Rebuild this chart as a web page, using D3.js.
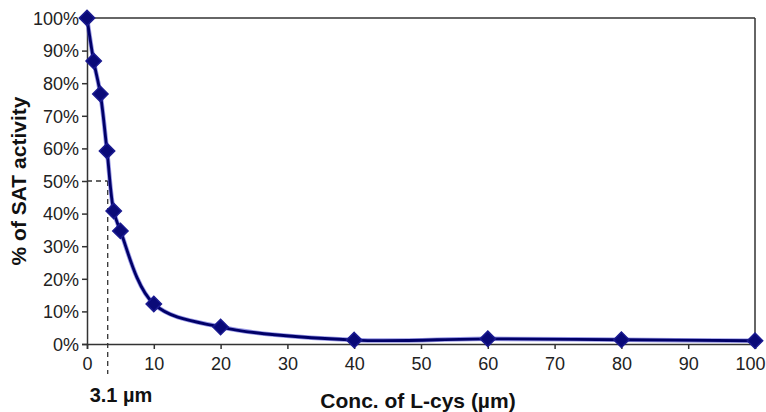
<!DOCTYPE html>
<html><head><meta charset="utf-8">
<script src="https://d3js.org/d3.v7.min.js"></script>
<style>body{margin:0;background:#fff}svg{display:block}text{font-family:"Liberation Sans",Arial,sans-serif}</style>
</head><body>
<svg id="c" width="766" height="412"></svg>
<script>
const conc = [0, 1, 2, 3, 4, 5, 10, 20, 40, 60, 80, 100];
const activity = [100, 86.8, 76.7, 59.2, 40.8, 34.7, 12.3, 5.2, 1.2, 1.6, 1.3, 1.0];
const xTicks = [0,10,20,30,40,50,60,70,80,90,100];
const yTicks = [0,10,20,30,40,50,60,70,80,90,100];
const ic50 = 3.1;

const svg = d3.select("#c");
const m = {l:87, r:11, t:18, b:68};
const W = 766, H = 412;
const x = d3.scaleLinear().domain([0,100]).range([m.l, W-m.r]);
const y = d3.scaleLinear().domain([0,100]).range([H-m.b, m.t]);

// frame top & right
svg.append("line").attr("x1",x(0)).attr("x2",x(100)).attr("y1",y(100)).attr("y2",y(100)).attr("stroke","#333").attr("stroke-width",1.5);
svg.append("line").attr("x1",x(100)).attr("x2",x(100)).attr("y1",y(100)).attr("y2",y(0)).attr("stroke","#333").attr("stroke-width",1.5);

const xa = svg.append("g").attr("transform",`translate(0,${y(0)})`)
  .call(d3.axisBottom(x).tickValues(xTicks).tickSize(5).tickPadding(8));
const ya = svg.append("g").attr("transform",`translate(${x(0)},0)`)
  .call(d3.axisLeft(y).tickValues(yTicks).tickSize(5).tickPadding(3).tickFormat(d=>d+"%"));
[xa,ya].forEach(a=>{
  a.selectAll("path").attr("stroke","#333").attr("stroke-width",1.5);
  a.selectAll("line").attr("stroke","#333").attr("stroke-width",1.5);
  a.selectAll("text").attr("font-size",18).attr("fill","#222").attr("font-family","Liberation Sans, Arial, sans-serif");
});
ya.selectAll("text").attr("dy","0.35em");
xa.selectAll(".tick").filter(d=>d===100).select("text").attr("text-anchor","end").attr("x",10);

// dashed guides
svg.append("line").attr("x1",x(0)).attr("x2",x(ic50)).attr("y1",y(50)).attr("y2",y(50))
  .attr("stroke","#333").attr("stroke-width",1.3).attr("stroke-dasharray","5,4");
svg.append("line").attr("x1",x(ic50)).attr("x2",x(ic50)).attr("y1",y(50)).attr("y2",y(0)+30)
  .attr("stroke","#333").attr("stroke-width",1.3).attr("stroke-dasharray","5,4");

// curve
const pts = conc.map((c,i)=>[c,activity[i]]);
const line = d3.line().x(d=>x(d[0])).y(d=>y(d[1])).curve(d3.curveCatmullRom.alpha(0.5));
svg.append("path").attr("d",line(pts)).attr("fill","none").attr("stroke","#4040d0").attr("stroke-width",4.5).attr("opacity",0.55);
svg.append("path").attr("d",line(pts)).attr("fill","none").attr("stroke","#000068").attr("stroke-width",2.8);

// diamonds
const sym = d3.symbol().type(d3.symbolDiamond2).size(150);
svg.selectAll(".pt").data(pts).join("path").attr("class","pt")
  .attr("transform",d=>`translate(${x(d[0])},${y(d[1])})`)
  .attr("d",sym).attr("fill","#0a0a78").attr("stroke","#1a1a90").attr("stroke-width",1.5);

// labels
svg.append("text").attr("x",121).attr("y",402).attr("text-anchor","middle")
  .attr("font-size",20).attr("font-weight","bold").attr("fill","#111").text("3.1 µm");
svg.append("text").attr("x",418).attr("y",408).attr("text-anchor","middle")
  .attr("font-size",21).attr("font-weight","bold").attr("fill","#111").text("Conc. of L-cys (µm)");
svg.append("text").attr("transform",`translate(26,${(y(0)+y(100))/2}) rotate(-90)`).attr("text-anchor","middle")
  .attr("font-size",21).attr("font-weight","bold").attr("fill","#111").text("% of SAT activity");
</script>
</body></html>
